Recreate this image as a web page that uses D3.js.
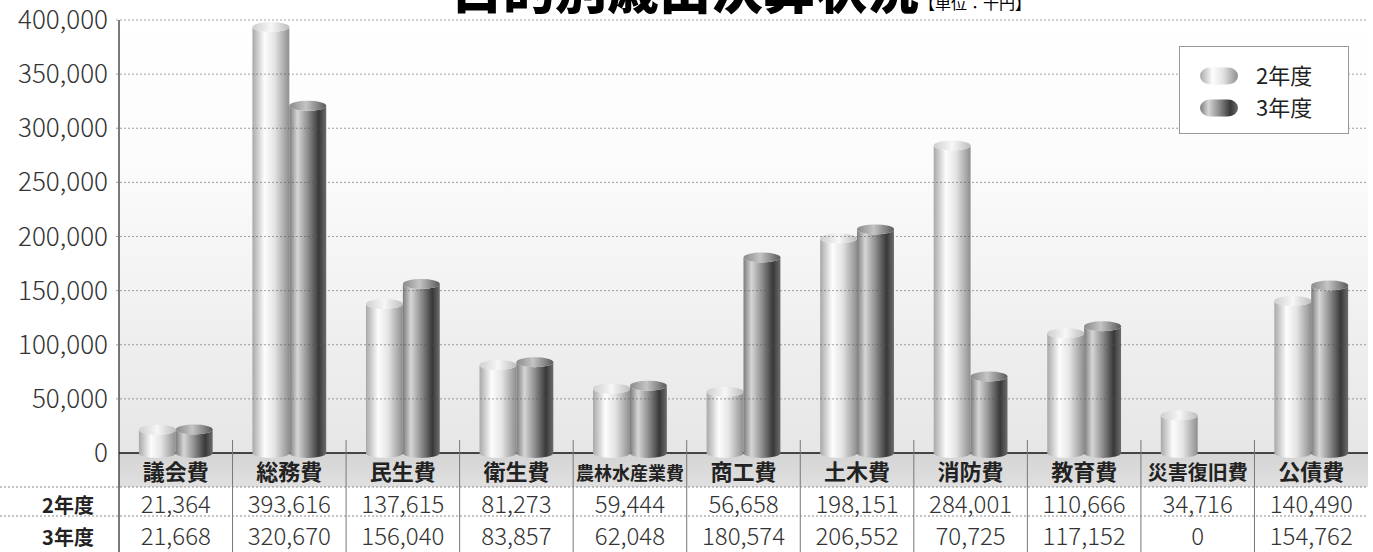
<!DOCTYPE html>
<html>
<head>
<meta charset="utf-8">
<script src="https://cdn.jsdelivr.net/npm/d3@7"></script>
<style>
  body { margin: 0; background: #fff; }
  svg { display: block; font-family: "Noto Sans CJK JP", sans-serif; }
</style>
</head>
<body>
<svg id="chart" width="1373" height="552"></svg>
<script>
// data (unit: 千円)
const categories = ["議会費", "総務費", "民生費", "衛生費", "農林水産業費", "商工費", "土木費", "消防費", "教育費", "災害復旧費", "公債費"];
const seriesNames = ["2年度", "3年度"];
const values2 = [21364, 393616, 137615, 81273, 59444, 56658, 198151, 284001, 110666, 34716, 140490];
const values3 = [21668, 320670, 156040, 83857, 62048, 180574, 206552, 70725, 117152, 0, 154762];
const yTicks = [0, 50000, 100000, 150000, 200000, 250000, 300000, 350000, 400000];

const svg = d3.select("#chart");
const plotL = 119, plotR = 1368, plotT = 20, plotB = 453;

const x0 = d3.scaleBand().domain(categories).range([plotL, plotR]);
const bw = x0.bandwidth();
const x1 = d3.scaleBand().domain(seriesNames).range([bw * 0.175, bw * 0.825]);
const y = d3.scaleLinear().domain([0, 400000]).range([plotB, plotT]);
const fmt = d3.format(",");

const rows = categories.map((c, i) => ({cat: c, vals: [values2[i], values3[i]]}));

// gradients
const defs = svg.append("defs");
function grad(id, stops, vertical) {
  const g = defs.append("linearGradient").attr("id", id)
    .attr("x1", 0).attr("y1", 0).attr("x2", vertical ? 0 : 1).attr("y2", vertical ? 1 : 0);
  stops.forEach(s => g.append("stop").attr("offset", s[0]).attr("stop-color", s[1]));
}
grad("bg", [[0, "#ffffff"], [0.35, "#fbfbfb"], [1, "#e6e6e6"]], true);
grad("band", [[0, "#d4d4d4"], [1, "#e0e0e0"]], true);
grad("body0", [[0, "#a8a8a8"], [0.33, "#fdfdfd"], [0.6, "#e4e4e4"], [1, "#8e8e8e"]]);
grad("body1", [[0, "#7c7c7c"], [0.22, "#d6d6d6"], [0.5, "#8e8e8e"], [0.8, "#383838"], [1, "#6c6c6c"]]);
grad("cap0", [[0, "#cfcfcf"], [0.5, "#f7f7f7"], [1, "#bdbdbd"]]);
grad("cap1", [[0, "#8a8a8a"], [0.45, "#c4c4c4"], [1, "#5a5a5a"]]);

// plot background
svg.append("rect").attr("x", plotL).attr("y", plotT)
  .attr("width", plotR - plotL).attr("height", plotB - plotT)
  .attr("fill", "url(#bg)");

// category band under the axis
svg.append("rect").attr("x", plotL).attr("y", plotB).attr("width", plotR - plotL).attr("height", 34)
  .attr("fill", "url(#band)");

// title (its top is cut off by the frame, as in the source)
const title = svg.append("text").attr("x", 451).attr("y", 9).attr("fill", "#000");
title.append("tspan").attr("font-size", 52).attr("font-weight", 900).text("目的別歳出決算状況");
title.append("tspan").attr("font-size", 16).attr("font-weight", 400).text("【単位：千円】");

// zero line + y axis line
svg.append("line").attr("x1", plotL).attr("x2", plotR).attr("y1", y(0)).attr("y2", y(0))
  .attr("stroke", "#111").attr("stroke-width", 1.5);
svg.append("line").attr("x1", plotL).attr("x2", plotL).attr("y1", plotT).attr("y2", 552)
  .attr("stroke", "#222").attr("stroke-width", 1.2);

// y tick labels
svg.append("g").selectAll("text").data(yTicks).join("text")
  .attr("x", 108).attr("y", d => y(d)).attr("dy", "0.35em")
  .attr("text-anchor", "end").attr("font-size", 26).attr("font-weight", 300).attr("fill", "#333")
  .text(d => fmt(d));

// cylinders
const ry = 5;
const g = svg.append("g");
rows.forEach(r => {
  r.vals.forEach((v, j) => {
    if (v <= 0) return;
    const bx = x0(r.cat) + x1(seriesNames[j]);
    const w = x1.bandwidth();
    const rx = w / 2;
    const yt = y(v), yb = y(0);
    g.append("path")
      .attr("d", `M${bx},${yt} L${bx},${yb} A${rx},${ry} 0 0 0 ${bx + w},${yb} L${bx + w},${yt} A${rx},${ry} 0 0 1 ${bx},${yt} Z`)
      .attr("fill", `url(#body${j})`);
    g.append("ellipse").attr("cx", bx + rx).attr("cy", yt).attr("rx", rx).attr("ry", ry)
      .attr("fill", `url(#cap${j})`);
  });
});

// dotted gridlines on top of the bars
svg.append("g").selectAll("line").data(yTicks.filter(d => d > 0)).join("line")
  .attr("x1", plotL - 3).attr("x2", plotR).attr("y1", d => y(d)).attr("y2", d => y(d))
  .attr("stroke", "#555").attr("stroke-opacity", 0.55).attr("stroke-dasharray", "2,2");

// category separators
svg.append("g").selectAll("line").data(categories.slice(1)).join("line")
  .attr("x1", d => x0(d)).attr("x2", d => x0(d)).attr("y1", 440).attr("y2", 552)
  .attr("stroke", "#777").attr("stroke-width", 1);

// category labels
svg.append("g").selectAll("text").data(categories).join("text")
  .attr("x", d => x0(d) + bw / 2).attr("y", 480)
  .attr("text-anchor", "middle").attr("font-weight", 700)
  .attr("font-size", d => d.length > 5 ? 18 : d.length > 3 ? 20 : 22).attr("fill", "#222")
  .text(d => d);

// table rows
const rowY = [487, 516];
svg.append("g").selectAll("line").data(rowY).join("line")
  .attr("x1", 0).attr("x2", plotR).attr("y1", d => d).attr("y2", d => d)
  .attr("stroke", "#888").attr("stroke-dasharray", "2,2");

seriesNames.forEach((s, j) => {
  const base = j === 0 ? 513 : 545;
  svg.append("text").attr("x", 68).attr("y", base).attr("text-anchor", "middle")
    .attr("font-size", 20).attr("font-weight", 700).attr("fill", "#222").text(s);
  svg.append("g").selectAll("text").data(rows).join("text")
    .attr("x", d => x0(d.cat) + bw / 2).attr("y", base)
    .attr("text-anchor", "middle").attr("font-size", 24).attr("font-weight", 300).attr("fill", "#333")
    .text(d => fmt(d.vals[j]));
});

// legend
const lg = svg.append("g");
lg.append("rect").attr("x", 1179.5).attr("y", 46.5).attr("width", 169).attr("height", 87)
  .attr("fill", "#fff").attr("stroke", "#999");
seriesNames.forEach((s, j) => {
  const cy = j === 0 ? 76 : 108;
  lg.append("rect").attr("x", 1200).attr("y", cy - 8.5).attr("width", 38).attr("height", 17)
    .attr("rx", 10).attr("ry", 8.5).attr("fill", `url(#body${j})`);
  lg.append("text").attr("x", 1256).attr("y", cy).attr("dy", "0.36em")
    .attr("font-size", 22).attr("fill", "#222").text(s);
});
</script>
</body>
</html>
